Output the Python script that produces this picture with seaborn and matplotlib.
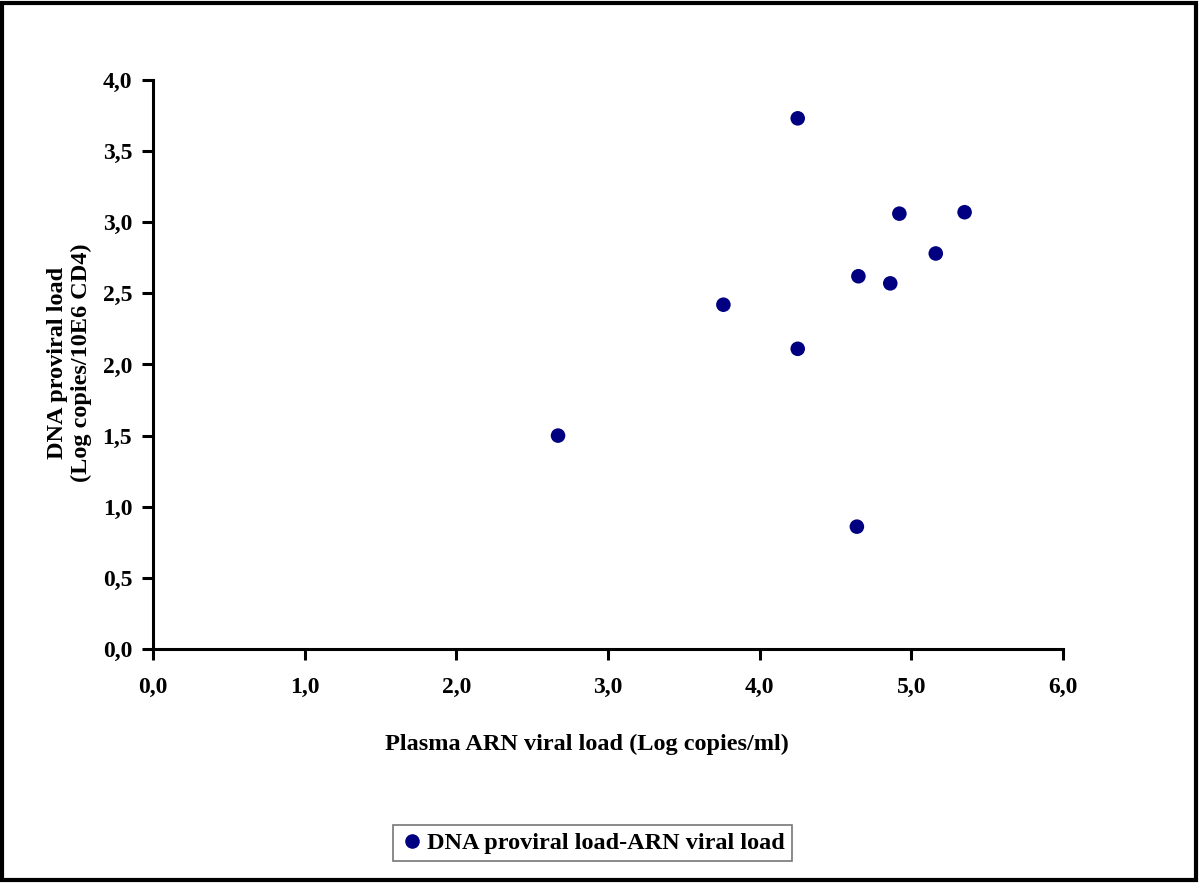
import pandas as pd
import matplotlib.pyplot as plt
import seaborn as sns
from matplotlib.patches import Rectangle

# === Data ===
rna_load = [2.67, 3.76, 4.25, 4.25, 4.65, 4.86, 4.92, 5.16, 5.35, 4.64]
dna_load = [1.50, 2.42, 3.73, 2.11, 2.62, 2.57, 3.06, 2.78, 3.07, 0.86]
series_name = "DNA proviral load-ARN viral load"
x_ticks = [0, 1, 2, 3, 4, 5, 6]
y_ticks = [0, 0.5, 1, 1.5, 2, 2.5, 3, 3.5, 4]

df = pd.DataFrame({"rna": rna_load, "dna": dna_load, "series": series_name})

sns.set_style("white")
plt.rcParams['font.family'] = ['Liberation Serif', 'DejaVu Serif']
plt.rcParams['font.weight'] = 'bold'
plt.rcParams['text.color'] = 'black'
plt.rcParams['xtick.color'] = 'black'
plt.rcParams['ytick.color'] = 'black'

fig = plt.figure(figsize=(12, 8.83), dpi=100)
ax = fig.add_axes([0.1275, 0.265, 0.7585, 0.6445])

sns.scatterplot(data=df, x="rna", y="dna", hue="series", palette=["#000080"],
                s=110, edgecolor="none", ax=ax, legend=True, zorder=3)

ax.set_xlim(0, 6)
ax.set_ylim(0, 4)
ax.set_xticks(x_ticks)
ax.set_yticks(y_ticks)
ax.set_xticklabels([f"{v:.1f}".replace(".", ",") for v in x_ticks], fontsize=17, fontweight='bold')
ax.set_yticklabels([f"{v:.1f}".replace(".", ",") for v in y_ticks], fontsize=17, fontweight='bold')
ax.tick_params(axis='x', direction='out', length=8, width=2.2, color='black',
               bottom=True, pad=12)
ax.tick_params(axis='y', direction='out', length=8, width=2.2, color='black',
               left=True, pad=7)

for side in ['top', 'right']:
    ax.spines[side].set_visible(False)
for side in ['left', 'bottom']:
    ax.spines[side].set_linewidth(2.2)
    ax.spines[side].set_color('black')

ax.set_xlabel("")
ax.set_ylabel("")
fig.text(0.489, 0.157, "Plasma ARN viral load (Log copies/ml)", ha='center', va='center',
         fontsize=17.5, fontweight='bold')
fig.text(0.058, 0.589, "DNA proviral load\n(Log copies/10E6 CD4)", ha='center', va='center',
         rotation=90, fontsize=17.5, fontweight='bold', linespacing=1.2)

# legend below the plot
handles, labels = ax.get_legend_handles_labels()
ax.get_legend().remove()
leg = fig.legend(handles, labels, loc='center', bbox_to_anchor=(0.4935, 0.0453),
                 prop={'size': 17.5, 'weight': 'bold'}, frameon=True, fancybox=False,
                 handletextpad=0.1, borderpad=0.3, handlelength=1.0, markerscale=1.0)
leg.get_frame().set_edgecolor('#555555')
leg.get_frame().set_linewidth(1.2)

# outer border around the figure
fig.patches.append(Rectangle((0.002, 0.003), 0.995, 0.994, transform=fig.transFigure,
                             fill=False, edgecolor='black', linewidth=3))

fig.savefig("out.png", dpi=100)
